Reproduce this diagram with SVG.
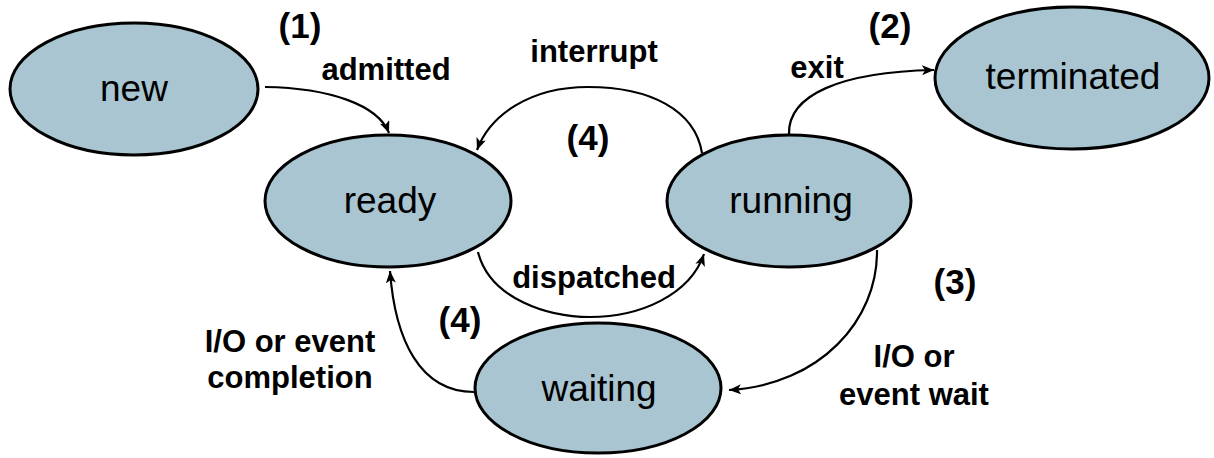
<svg xmlns="http://www.w3.org/2000/svg" width="1214" height="458" viewBox="0 0 1214 458">
<style>
.node ellipse{fill:#a8c5d1;stroke:#000;stroke-width:3}
.node text{font-family:"Liberation Sans",Arial,sans-serif;font-size:37px;text-anchor:middle;fill:#000}
.lbl{font-family:"Liberation Sans",Arial,sans-serif;font-size:31px;font-weight:bold;text-anchor:middle;fill:#000}
.num{font-family:"Liberation Sans",Arial,sans-serif;font-size:35px;font-weight:bold;text-anchor:middle;fill:#000}
.edge{fill:none;stroke:#000;stroke-width:2.2;marker-end:url(#ah)}
</style>
<defs>
<marker id="ah" viewBox="0 0 12 10" refX="12" refY="5" markerWidth="12" markerHeight="10" markerUnits="userSpaceOnUse" orient="auto">
<path d="M0,0 L12,5 L0,10 L3,5 z" fill="#000"/>
</marker>
</defs>
<rect width="1214" height="458" fill="#fff"/>
<g id="connectors">
<path class="edge" d="M265,87 C330,88 378,105 389,133"/>
<path class="edge" d="M702,153 C695,110 650,87 588,87 C530,87 490,115 477,150"/>
<path class="edge" d="M789,134 C788,95 840,72 934,70"/>
<path class="edge" d="M478,252 C490,300 550,317 590,317 C640,317 690,295 704,254"/>
<path class="edge" d="M474,392 C420,392 395,340 390,271"/>
<path class="edge" d="M877,250 C878,320 820,385 729,390"/>
</g>
<g id="new" class="node"><ellipse cx="134" cy="89" rx="124" ry="66"/><text x="134" y="101">new</text></g>
<g id="terminated" class="node"><ellipse cx="1072" cy="78" rx="137" ry="71"/><text x="1073" y="89">terminated</text></g>
<g id="ready" class="node"><ellipse cx="388" cy="201" rx="123" ry="66"/><text x="390" y="213">ready</text></g>
<g id="running" class="node"><ellipse cx="789" cy="201" rx="122" ry="66"/><text x="791" y="213">running</text></g>
<g id="waiting" class="node"><ellipse cx="598" cy="388" rx="123" ry="65"/><text x="599" y="401">waiting</text></g>
<g id="labels">
<text class="num" x="300" y="38">(1)</text>
<text class="lbl" x="386" y="80">admitted</text>
<text class="lbl" x="594" y="62">interrupt</text>
<text class="num" x="890" y="38">(2)</text>
<text class="lbl" x="817" y="78">exit</text>
<text class="num" x="588" y="150">(4)</text>
<text class="lbl" x="594" y="288">dispatched</text>
<text class="num" x="955" y="294">(3)</text>
<text class="num" x="460" y="332">(4)</text>
<text class="lbl" x="290" y="352">I/O or event</text>
<text class="lbl" x="290" y="388">completion</text>
<text class="lbl" x="914" y="367">I/O or</text>
<text class="lbl" x="914" y="405">event wait</text>
</g>
</svg>
